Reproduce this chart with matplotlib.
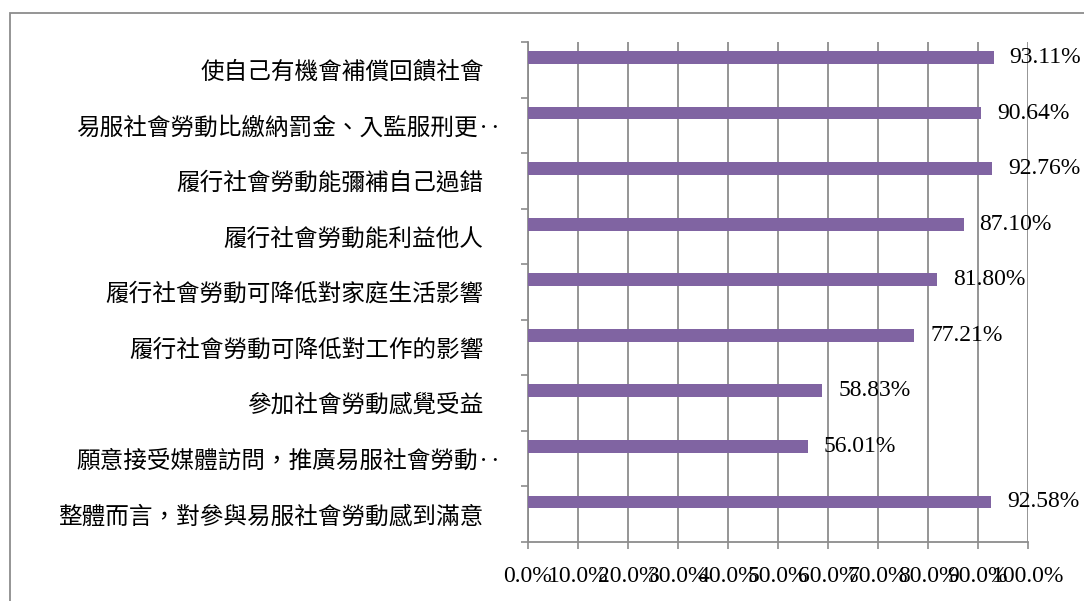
import matplotlib
matplotlib.use("Agg")
import matplotlib.pyplot as plt
import matplotlib.transforms as mtransforms
from matplotlib.patches import Rectangle

# ============================================
# Data (top to bottom as shown in the chart)
# ============================================
categories = [
    "使自己有機會補償回饋社會",
    "易服社會勞動比繳納罰金、入監服刑更‥",
    "履行社會勞動能彌補自己過錯",
    "履行社會勞動能利益他人",
    "履行社會勞動可降低對家庭生活影響",
    "履行社會勞動可降低對工作的影響",
    "參加社會勞動感覺受益",
    "願意接受媒體訪問，推廣易服社會勞動‥",
    "整體而言，對參與易服社會勞動感到滿意",
]
values = [93.11, 90.64, 92.76, 87.10, 81.80, 77.21, 58.83, 56.01, 92.58]
xticks = [0, 10, 20, 30, 40, 50, 60, 70, 80, 90, 100]

bar_color = "#8064A2"
grid_color = "#8C8C8C"
cjk_font = ["Noto Sans CJK TC", "DejaVu Sans"]
num_font = ["Liberation Serif", "DejaVu Serif"]

# ============================================
# Plotting
# ============================================
fig = plt.figure(figsize=(10.84, 6.01), dpi=100)
ax = fig.add_axes([528 / 1084, 1 - 542 / 601, 500 / 1084, 500 / 601])

pos = list(range(len(categories)))
bar_pos = [p - 0.22 for p in pos]
ax.barh(bar_pos, values, height=0.23, color=bar_color, zorder=3)

for y, v in zip(bar_pos, values):
    ax.annotate(f"{v:.2f}%", xy=(v, y), xytext=(11.5, 0),
                textcoords="offset points", ha="left", va="center",
                fontsize=17, family=num_font, zorder=4)

ax.set_xlim(0, 100)
ax.set_ylim(len(categories) - 0.5, -0.5)

ax.set_xticks(xticks)
ax.set_xticklabels([f"{t:.1f}%" for t in xticks], fontsize=17, family=num_font)
ax.set_yticks(pos)
ax.set_yticklabels(categories, fontsize=17, family=cjk_font)
ax.set_yticks([p - 0.5 for p in pos] + [len(pos) - 0.5], minor=True)

ax.tick_params(axis="y", which="major", length=0, pad=32)
ax.tick_params(axis="y", which="minor", length=5, width=1.2, color=grid_color)
ax.tick_params(axis="x", length=5, width=1.2, color=grid_color, pad=12)

# truncated labels sit a bit further right
for lab in ax.get_yticklabels():
    if lab.get_text().endswith("‥"):
        lab.set_transform(lab.get_transform() +
                          mtransforms.ScaledTranslation(18 / 100, 0, fig.dpi_scale_trans))

ax.grid(axis="x", color=grid_color, linewidth=1.3, zorder=0)
for side in ["top", "right"]:
    ax.spines[side].set_visible(False)
for side in ["left", "bottom"]:
    ax.spines[side].set_color(grid_color)
    ax.spines[side].set_linewidth(1.3)

# outer chart frame
fig.add_artist(Rectangle((10 / 1084, -0.05), 1.2, 1 - 13 / 601 + 0.05,
                         transform=fig.transFigure, fill=False,
                         edgecolor=grid_color, linewidth=1.3))

plt.savefig("out.png", dpi=100)
